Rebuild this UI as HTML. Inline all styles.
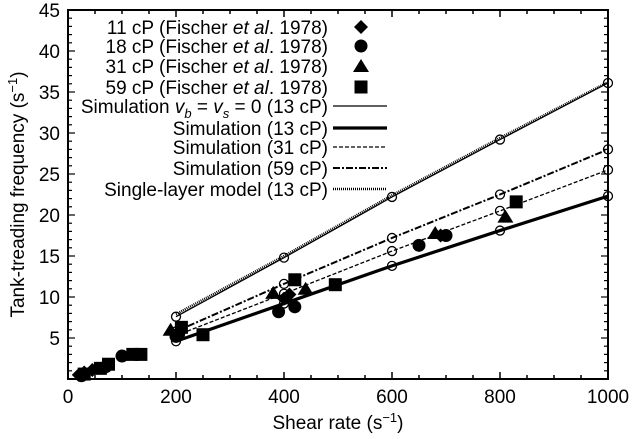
<!DOCTYPE html>
<html><head><meta charset="utf-8"><style>
body{margin:0;background:#fff}
svg{font-family:"Liberation Sans",sans-serif}
</style></head><body>
<svg width="632" height="434">
<g id="plot"></g>
</svg>
<script>
const xTicks=[0,200,400,600,800,1000];
const yTicks=[5,10,15,20,25,30,35,40,45];
const simX=[200,400,600,800,1000];
const simV0=[7.6,14.8,22.2,29.2,36.1];
const simSingle=[7.9,15.0,22.4,29.4,36.2];
const sim13=[4.6,9.2,13.8,18.1,22.3];
const sim31=[5.3,10.4,15.6,20.5,25.5];
const sim59=[5.8,11.6,17.2,22.5,28.0];
const exp11X=[20,30,45,400,410,690];
const exp11Y=[0.5,0.8,1.1,9.8,10.3,17.5];
const exp18X=[25,70,100,200,205,390,420,650,700];
const exp18Y=[0.4,1.5,2.8,5.2,5.5,8.2,8.8,16.3,17.5];
const exp31X=[190,380,440,680,810];
const exp31Y=[6.0,10.5,11.0,17.8,19.8];
const exp59X=[30,60,75,120,135,210,250,420,495,830];
const exp59Y=[0.6,1.3,1.8,3.0,3.0,6.3,5.4,12.1,11.5,21.6];

const NS="http://www.w3.org/2000/svg";
const g=document.getElementById('plot');
const X0=68,X1=608,Y0=379,Y1=10;
const sx=v=>X0+(v/1000)*(X1-X0);
const sy=v=>Y0-(v/45)*(Y0-Y1);
function el(t,a,p){const e=document.createElementNS(NS,t);for(const k in a)e.setAttribute(k,a[k]);(p||g).appendChild(e);return e;}

const frame=el('rect',{x:X0,y:Y1,width:X1-X0,height:Y0-Y1,fill:'none',stroke:'#000','stroke-width':2});


for(let v=0;v<=1000;v+=50){const len=v%200===0?7:4;
 el('line',{x1:sx(v),x2:sx(v),y1:Y0,y2:Y0-len,stroke:'#000','stroke-width':1.5});
 el('line',{x1:sx(v),x2:sx(v),y1:Y1,y2:Y1+len,stroke:'#000','stroke-width':1.5});}
for(let v=0;v<=45;v+=1){const len=v%5===0?7:4;
 el('line',{x1:X0,x2:X0+len,y1:sy(v),y2:sy(v),stroke:'#000','stroke-width':1.2});
 el('line',{x1:X1,x2:X1-len,y1:sy(v),y2:sy(v),stroke:'#000','stroke-width':1.2});}
xTicks.forEach(v=>{const t=el('text',{x:sx(v),y:403,'text-anchor':'middle','font-size':19});t.textContent=v;
 
 });
yTicks.forEach(v=>{const t=el('text',{x:X0-8,y:sy(v)+7,'text-anchor':'end','font-size':19});t.textContent=v;
 
 });
const xl=el('text',{x:338,y:429,'text-anchor':'middle','font-size':19});xl.innerHTML='Shear rate (s<tspan dy="-7" font-size="13">−1</tspan><tspan dy="7">)</tspan>';


const yl=el('text',{x:0,y:0,'text-anchor':'middle','font-size':19,transform:`translate(24,${(Y0+Y1)/2}) rotate(-90)`});yl.innerHTML='Tank-treading frequency (s<tspan dy="-7" font-size="13">−1</tspan><tspan dy="7">)</tspan>';



const styles={
 v0:{w:1.3,d:''},s13:{w:3.2,d:''},s31:{w:1.3,d:'4,2'},s59:{w:2,d:'7,2,2,2'},single:{w:2.5,d:'1,1'}};
function series(ys,st,name,circles){
 const p=el('polyline',{points:simX.map((x,i)=>sx(x)+','+sy(ys[i])).join(' '),fill:'none',stroke:'#000','stroke-width':st.w,'stroke-dasharray':st.d});
 
 
 if(circles)simX.forEach((x,i)=>{const c=el('circle',{cx:sx(x),cy:sy(ys[i]),r:4.5,fill:'none',stroke:'#000','stroke-width':1.3});
  
  });
}
series(simSingle,styles.single,'single-layer-line',false);
series(simV0,styles.v0,'sim-v0-line',true);
series(sim13,styles.s13,'sim-13cp-line',true);
series(sim31,styles.s31,'sim-31cp-line',true);
series(sim59,styles.s59,'sim-59cp-line',true);

function marker(type,x,y){let e;
 if(type==='d')e=el('polygon',{points:`${x},${y-7} ${x+7},${y} ${x},${y+7} ${x-7},${y}`});
 else if(type==='c')e=el('circle',{cx:x,cy:y,r:6.5});
 else if(type==='t')e=el('polygon',{points:`${x},${y-7} ${x+8},${y+6} ${x-8},${y+6}`});
 else e=el('rect',{x:x-6.5,y:y-6.5,width:13,height:13});
 e.setAttribute('fill','#000');return e;}
[[exp11X,exp11Y,'d','exp-11cp'],[exp18X,exp18Y,'c','exp-18cp'],[exp31X,exp31Y,'t','exp-31cp'],[exp59X,exp59Y,'s','exp-59cp']].forEach(([xs,ys,t,n])=>{
 xs.forEach((x,i)=>{const m=marker(t,sx(x),sy(ys[i]));
  
  });});

const lg=el('g',{});


const rows=[
 ['11 cP (Fischer <tspan font-style="italic">et al</tspan>. 1978)','d',27],
 ['18 cP (Fischer <tspan font-style="italic">et al</tspan>. 1978)','c',46],
 ['31 cP (Fischer <tspan font-style="italic">et al</tspan>. 1978)','t',66],
 ['59 cP (Fischer <tspan font-style="italic">et al</tspan>. 1978)','s',87],
 ['Simulation <tspan font-style="italic">v</tspan><tspan font-style="italic" dy="5" font-size="13">b</tspan><tspan dy="-5"> = </tspan><tspan font-style="italic">v</tspan><tspan font-style="italic" dy="5" font-size="13">s</tspan><tspan dy="-5"> = 0 (13 cP)</tspan>','v0',106],
 ['Simulation (13 cP)','s13',128],
 ['Simulation (31 cP)','s31',147],
 ['Simulation (59 cP)','s59',168],
 ['Single-layer model (13 cP)','single',189]];
rows.forEach(([txt,k,y])=>{
 const t=el('text',{x:328,y:y+7,'text-anchor':'end','font-size':19},lg);t.innerHTML=txt;
 
 
 if(k.length===1){const m=marker(k,361,y);lg.appendChild(m);}
 else{const s=styles[k];const l=el('line',{x1:333,x2:387,y1:y,y2:y,stroke:'#000','stroke-width':s.w,'stroke-dasharray':s.d},lg);
  
  }
});
</script>
</body></html>
